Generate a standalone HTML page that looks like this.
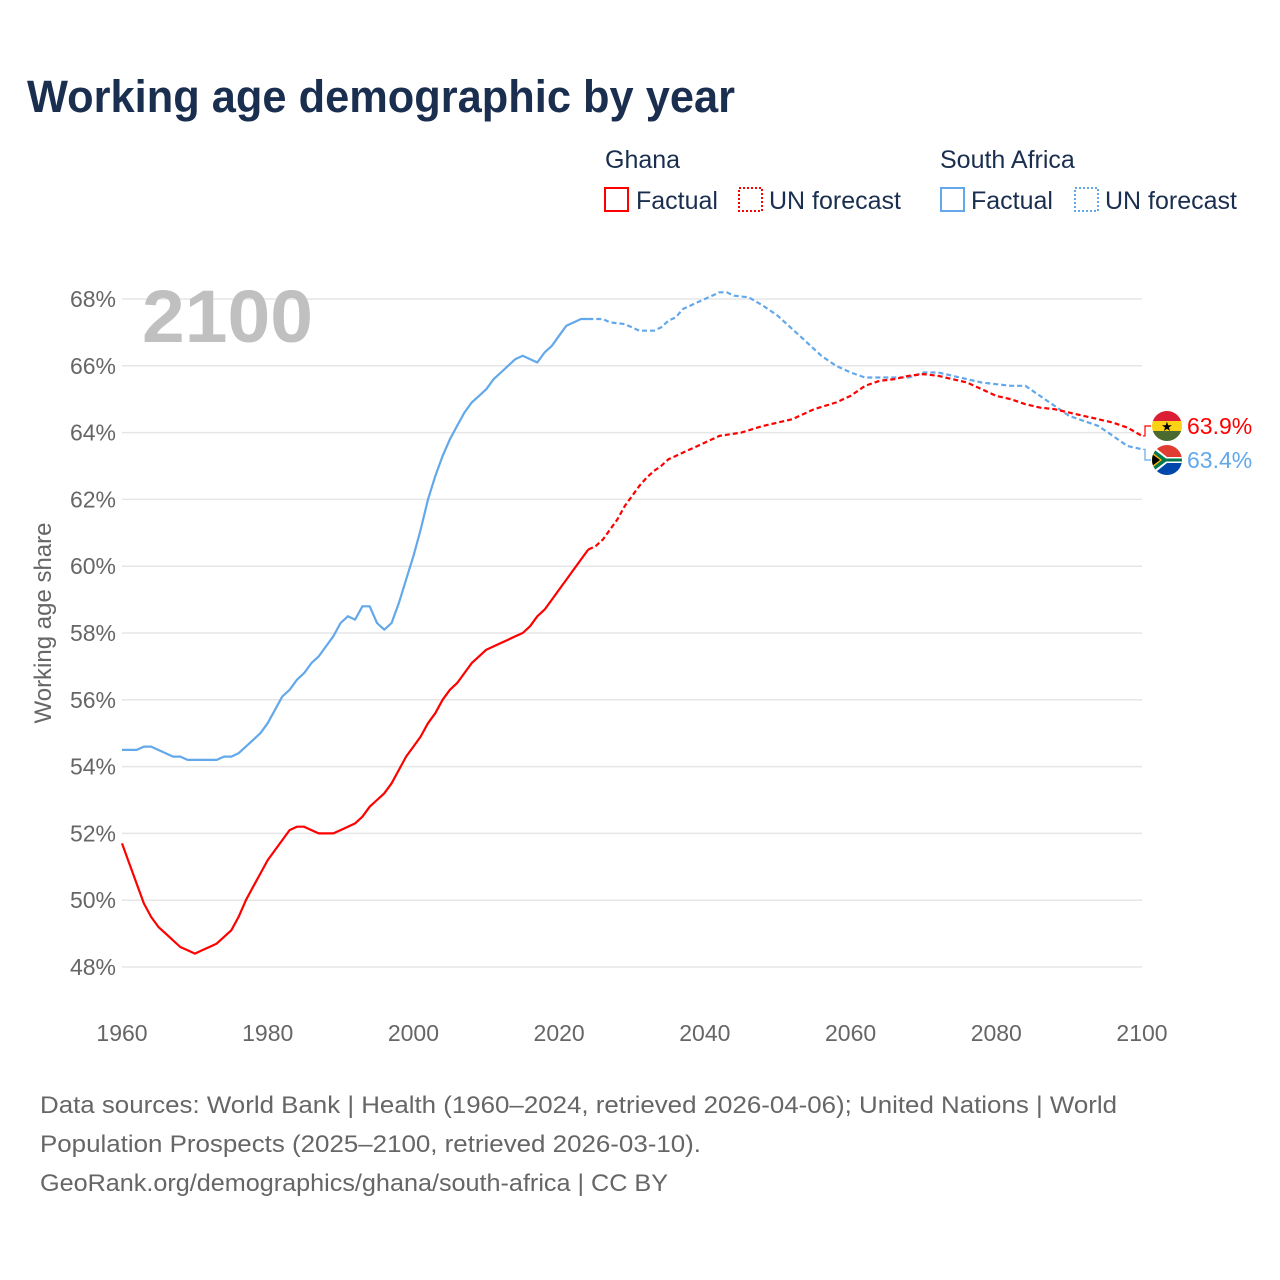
<!DOCTYPE html>
<html><head><meta charset="utf-8"><style>
body{margin:0;background:#fff;font-family:"Liberation Sans",sans-serif}
</style></head><body>
<svg width="1280" height="1280" viewBox="0 0 1280 1280" style="display:block">
<text x="27" y="112" font-size="45" font-weight="bold" fill="#1a2e4f" textLength="708" lengthAdjust="spacingAndGlyphs">Working age demographic by year</text>
<g font-size="25" fill="#1a2e4f">
<text x="605" y="168">Ghana</text>
<rect x="605" y="188" width="23" height="23" fill="none" stroke="#ff0000" stroke-width="2"/>
<text x="636" y="209">Factual</text>
<rect x="739" y="188" width="23" height="23" fill="none" stroke="#ff0000" stroke-width="2" stroke-dasharray="2,2"/>
<text x="769" y="209">UN forecast</text>
<text x="940" y="168">South Africa</text>
<rect x="941" y="188" width="23" height="23" fill="none" stroke="#62a8ea" stroke-width="2"/>
<text x="971" y="209">Factual</text>
<rect x="1075" y="188" width="23" height="23" fill="none" stroke="#62a8ea" stroke-width="2" stroke-dasharray="2,2"/>
<text x="1105" y="209">UN forecast</text>
</g>
<g id="grid"></g>
<text x="142" y="342" font-size="74" font-weight="bold" fill="#c0c0c0" textLength="171" lengthAdjust="spacingAndGlyphs">2100</text>
<text transform="translate(51,623) rotate(-90)" text-anchor="middle" font-size="24" fill="#666">Working age share</text>
<g id="lines"></g>
<g id="ends"></g>
<g font-size="24" fill="#666">
<text x="40" y="1113" textLength="1077" lengthAdjust="spacingAndGlyphs">Data sources: World Bank | Health (1960–2024, retrieved 2026-04-06); United Nations | World</text>
<text x="40" y="1152" textLength="661" lengthAdjust="spacingAndGlyphs">Population Prospects (2025–2100, retrieved 2026-03-10).</text>
<text x="40" y="1191" textLength="628" lengthAdjust="spacingAndGlyphs">GeoRank.org/demographics/ghana/south-africa | CC BY</text>
</g>
</svg>
<script>
const yTicks=[48,50,52,54,56,58,60,62,64,66,68];
const xTicks=[1960,1980,2000,2020,2040,2060,2080,2100];
const ghFactYears=[1960,1961,1962,1963,1964,1965,1966,1967,1968,1969,1970,1971,1972,1973,1974,1975,1976,1977,1978,1979,1980,1981,1982,1983,1984,1985,1986,1987,1988,1989,1990,1991,1992,1993,1994,1995,1996,1997,1998,1999,2000,2001,2002,2003,2004,2005,2006,2007,2008,2009,2010,2011,2012,2013,2014,2015,2016,2017,2018,2019,2020,2021,2022,2023,2024];
const ghFactValues=[51.7,51.1,50.5,49.9,49.5,49.2,49.0,48.8,48.6,48.5,48.4,48.5,48.6,48.7,48.9,49.1,49.5,50.0,50.4,50.8,51.2,51.5,51.8,52.1,52.2,52.2,52.1,52.0,52.0,52.0,52.1,52.2,52.3,52.5,52.8,53.0,53.2,53.5,53.9,54.3,54.6,54.9,55.3,55.6,56.0,56.3,56.5,56.8,57.1,57.3,57.5,57.6,57.7,57.8,57.9,58.0,58.2,58.5,58.7,59.0,59.3,59.6,59.9,60.2,60.5];
const ghFcYears=[2024,2025,2026,2027,2028,2029,2030,2031,2032,2033,2034,2035,2036,2037,2038,2039,2040,2041,2042,2045,2048,2050,2052,2055,2058,2060,2062,2064,2066,2068,2070,2072,2074,2076,2078,2080,2082,2084,2086,2088,2090,2092,2094,2096,2098,2100];
const ghFcValues=[60.5,60.6,60.8,61.1,61.4,61.8,62.1,62.4,62.65,62.85,63.0,63.2,63.3,63.4,63.5,63.6,63.7,63.8,63.9,64.0,64.2,64.3,64.4,64.7,64.9,65.1,65.4,65.55,65.6,65.7,65.75,65.7,65.6,65.5,65.3,65.1,65.0,64.85,64.75,64.7,64.6,64.5,64.4,64.3,64.15,63.9];
const saFactYears=[1960,1962,1963,1964,1966,1967,1968,1969,1973,1974,1975,1976,1977,1978,1979,1980,1981,1982,1983,1984,1985,1986,1987,1988,1989,1990,1991,1992,1993,1994,1995,1996,1997,1998,1999,2000,2001,2002,2003,2004,2005,2006,2007,2008,2009,2010,2011,2012,2013,2014,2015,2016,2017,2018,2019,2020,2021,2022,2023,2024];
const saFactValues=[54.5,54.5,54.6,54.6,54.4,54.3,54.3,54.2,54.2,54.3,54.3,54.4,54.6,54.8,55.0,55.3,55.7,56.1,56.3,56.6,56.8,57.1,57.3,57.6,57.9,58.3,58.5,58.4,58.8,58.8,58.3,58.1,58.3,58.9,59.6,60.3,61.1,62.0,62.7,63.3,63.8,64.2,64.6,64.9,65.1,65.3,65.6,65.8,66.0,66.2,66.3,66.2,66.1,66.4,66.6,66.9,67.2,67.3,67.4,67.4];
const saFcYears=[2024,2026,2027,2029,2031,2033,2034,2035,2036,2037,2039,2041,2042,2043,2044,2046,2048,2050,2052,2054,2056,2058,2060,2062,2065,2068,2070,2072,2074,2076,2078,2080,2082,2084,2086,2088,2090,2092,2094,2096,2098,2100];
const saFcValues=[67.4,67.4,67.3,67.25,67.05,67.05,67.15,67.35,67.45,67.7,67.9,68.1,68.2,68.2,68.1,68.05,67.8,67.5,67.1,66.7,66.3,66.0,65.8,65.65,65.65,65.65,65.8,65.8,65.7,65.6,65.5,65.45,65.4,65.4,65.1,64.8,64.5,64.35,64.2,63.9,63.6,63.5];
const endLabels=['63.9%','63.4%'];

const NS='http://www.w3.org/2000/svg';
const X=y=>122+(y-1960)*(1020/140);
const Y=v=>299+(68-v)*(668/20);
function mk(t,a,p){const e=document.createElementNS(NS,t);for(const k in a)e.setAttribute(k,a[k]);p.appendChild(e);return e;}
const grid=document.getElementById('grid');
yTicks.forEach(t=>{
  const l=mk('line',{x1:122,x2:1142,y1:Y(t),y2:Y(t),stroke:'#e6e6e6','stroke-width':1.5},grid);
  
  
  const tx=mk('text',{x:116,y:Y(t)+8,'text-anchor':'end','font-size':23,fill:'#666'},grid);
  tx.textContent=t+'%';
  
  
});
xTicks.forEach(t=>{
  const tx=mk('text',{x:X(t),y:1041,'text-anchor':'middle','font-size':23,fill:'#666'},grid);
  tx.textContent=t;
  
  
});
const lines=document.getElementById('lines');
function path(ys,vs,col,dash,name){
  const d=ys.map((y,i)=>(i?'L':'M')+X(y).toFixed(1)+','+Y(vs[i]).toFixed(1)).join('');
  const a={d:d,fill:'none',stroke:col,'stroke-width':2.2,'stroke-linejoin':'round'};
  if(dash)a['stroke-dasharray']='5,3';
  const p=mk('path',a,lines);
  
  
}
path(saFactYears,saFactValues,'#62a8ea',false,'south-africa-factual-line');
path(saFcYears,saFcValues,'#62a8ea',true,'south-africa-forecast-line');
path(ghFactYears,ghFactValues,'#ff0000',false,'ghana-factual-line');
path(ghFcYears,ghFcValues,'#ff0000',true,'ghana-forecast-line');

const ends=document.getElementById('ends');
const gy=Y(ghFcValues[ghFcValues.length-1]), sy=Y(saFcValues[saFcValues.length-1]);
const gcy=426, scy=460, cx=1167;
let c=mk('path',{d:`M1143,${gy}L1145,${gy}L1145,${gcy}L1151,${gcy}`,fill:'none',stroke:'#ff0000','stroke-width':1.2},ends);


c=mk('path',{d:`M1143,${sy}L1145,${sy}L1145,${scy}L1151,${scy}`,fill:'none',stroke:'#62a8ea','stroke-width':1.2},ends);


const defs=mk('defs',{},ends);
const cg=mk('clipPath',{id:'cg'},defs);mk('circle',{cx:cx,cy:gcy,r:15},cg);
const cs=mk('clipPath',{id:'cs'},defs);mk('circle',{cx:cx,cy:scy,r:15},cs);
const gf=mk('g',{'clip-path':'url(#cg)'},ends);


mk('rect',{x:cx-15,y:gcy-15,width:30,height:10,fill:'#dc1e35'},gf);
mk('rect',{x:cx-15,y:gcy-5,width:30,height:10,fill:'#fcd116'},gf);
mk('rect',{x:cx-15,y:gcy+5,width:30,height:10,fill:'#4b6a2f'},gf);
mk('text',{x:cx,y:gcy+5,'text-anchor':'middle','font-size':13,fill:'#000'},gf).textContent='★';
const sf=mk('g',{'clip-path':'url(#cs)'},ends);


mk('rect',{x:cx-15,y:scy-15,width:30,height:15,fill:'#e03c31'},sf);
mk('rect',{x:cx-15,y:scy,width:30,height:15,fill:'#0047ab'},sf);
mk('path',{d:`M${cx-15},${scy-15}L${cx},${scy-3}L${cx+15},${scy-3}L${cx+15},${scy+3}L${cx},${scy+3}L${cx-15},${scy+15}Z`,fill:'#fff'},sf);
mk('path',{d:`M${cx-15},${scy-12}L${cx-1},${scy-1.5}L${cx+15},${scy-1.5}L${cx+15},${scy+1.5}L${cx-1},${scy+1.5}L${cx-15},${scy+12}Z`,fill:'#007a4d'},sf);
mk('path',{d:`M${cx-15},${scy-8}L${cx-5},${scy}L${cx-15},${scy+8}Z`,fill:'#ffb612'},sf);
mk('path',{d:`M${cx-15},${scy-6}L${cx-7},${scy}L${cx-15},${scy+6}Z`,fill:'#000'},sf);
let t=mk('text',{x:1187,y:gcy+8,'font-size':23,fill:'#ff0000'},ends);t.textContent=endLabels[0];


t=mk('text',{x:1187,y:scy+8,'font-size':23,fill:'#62a8ea'},ends);t.textContent=endLabels[1];


</script>
</body></html>
